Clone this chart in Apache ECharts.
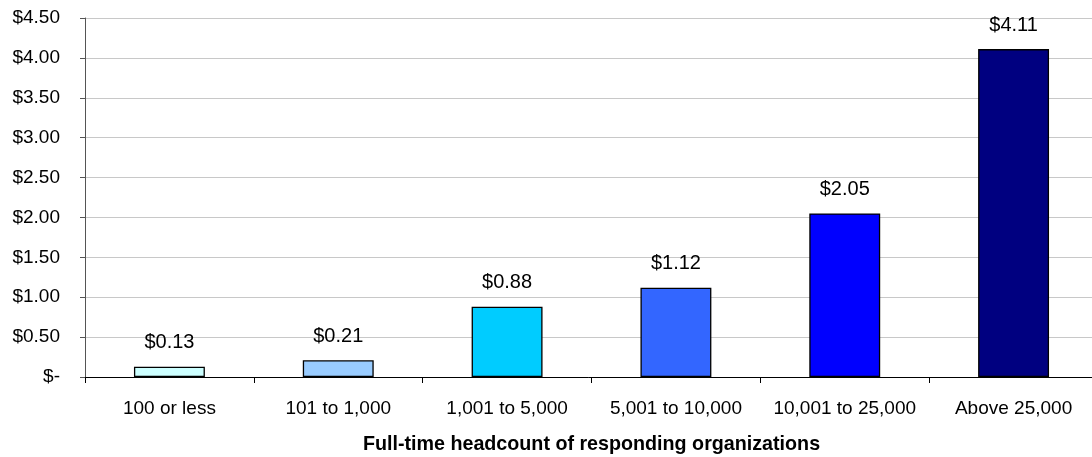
<!DOCTYPE html>
<html><head><meta charset="utf-8">
<script src="https://cdn.jsdelivr.net/npm/echarts@6/dist/echarts.min.js"></script>
<style>html,body{margin:0;padding:0;background:#fff}#c{width:1092px;height:457px}</style>
</head><body><div id="c"></div>
<script>
const categories = ['100 or less','101 to 1,000','1,001 to 5,000','5,001 to 10,000','10,001 to 25,000','Above 25,000'];
const values = [0.13, 0.21, 0.88, 1.12, 2.05, 4.11];
const barColors = ['#CCFFFF','#99CCFF','#00CCFF','#3366FF','#0000FF','#000080'];
const xTitle = 'Full-time headcount of responding organizations';

function money(v){ return v === 0 ? '$-' : '$' + v.toFixed(2); }

const FONT = 'Liberation Sans, Arial, sans-serif';
const chart = echarts.init(document.getElementById('c'));
chart.setOption({
  animation:false,
  grid:{left:85, right:-6, top:18, bottom:80, containLabel:false, outerBoundsMode:'none'},
  xAxis:{
    type:'category', data:categories,
    name:xTitle, nameLocation:'middle', nameGap:58,
    nameTextStyle:{fontFamily:FONT, fontSize:19.7, fontWeight:'bold', color:'#000'},
    axisLine:{lineStyle:{color:'#000', width:1}},
    axisTick:{show:true, length:6, lineStyle:{color:'#000'}},
    axisLabel:{fontFamily:FONT, fontSize:19, color:'#000', margin:22, interval:0}
  },
  yAxis:{
    type:'value', min:0, max:4.5, interval:0.5,
    axisLine:{show:true, lineStyle:{color:'#555', width:1}},
    axisTick:{show:true, inside:false, length:5, lineStyle:{color:'#555'}},
    splitLine:{lineStyle:{color:'#c8c8c8', width:1}},
    axisLabel:{fontFamily:FONT, fontSize:19, color:'#000', margin:25, formatter:money}
  },
  series:[{
    type:'bar', barWidth:'42%',
    data: values.map((v,i)=>({value:v, itemStyle:{color:barColors[i]}})),
    itemStyle:{borderColor:'#000', borderWidth:1.3},
    label:{show:true, position:'top', distance:14, fontFamily:FONT, fontSize:20, color:'#000', formatter:p=>money(p.value)}
  }]
});
</script></body></html>
